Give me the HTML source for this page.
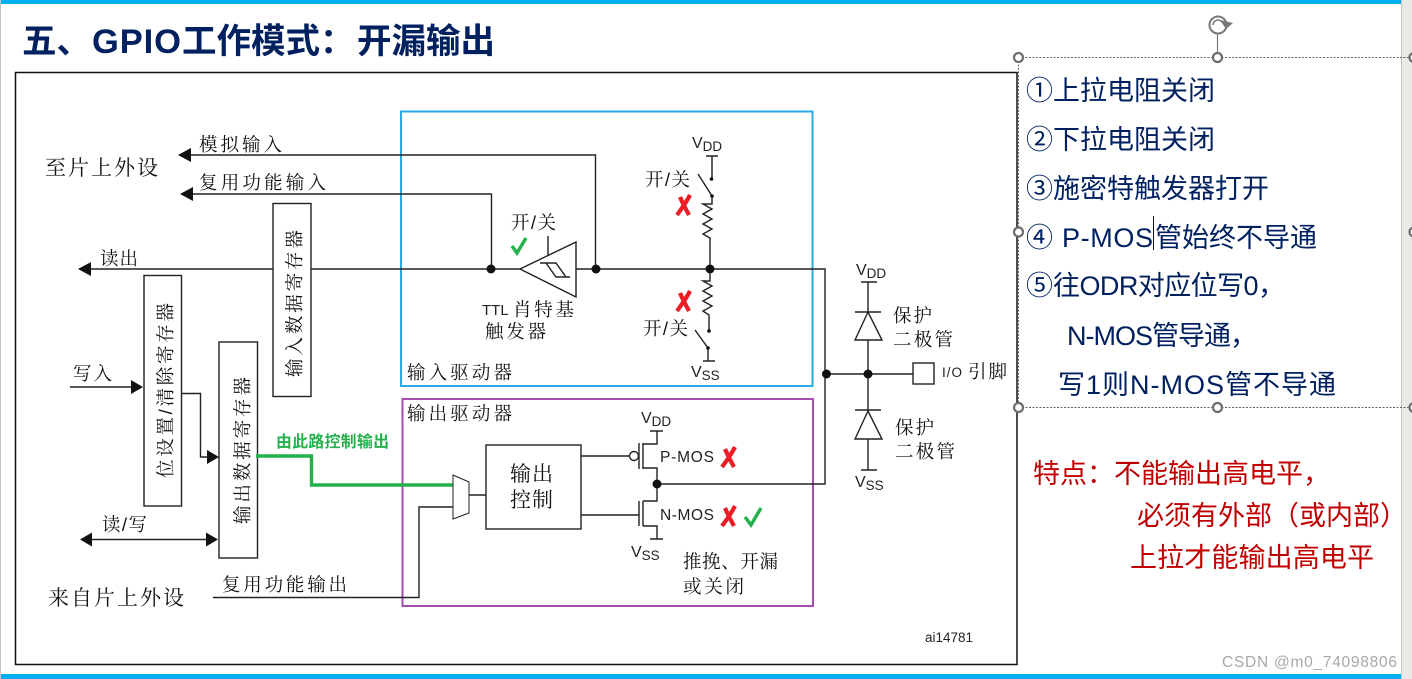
<!DOCTYPE html>
<html lang="zh-CN">
<head>
<meta charset="utf-8">
<title>GPIO 开漏输出</title>
<style>
html,body{margin:0;padding:0;background:#fff;width:1412px;height:679px;overflow:hidden}
svg{display:block}
text{font-family:"Liberation Sans","Noto Serif CJK SC",serif;fill:#111}
.l{font-size:18.5px}
.b{font-size:21px}
.s{font-family:"Liberation Sans",sans-serif;fill:#222}
.n{font-family:"Liberation Sans","Noto Sans CJK SC",sans-serif;font-size:27px;fill:#002060}
.r{font-family:"Liberation Sans","Noto Sans CJK SC",sans-serif;font-size:27px;fill:#c00000}
.w{fill:none;stroke:#222;stroke-width:1.4}
.h{fill:#fff;stroke:#6e6e6e;stroke-width:2.2}
.x{fill:none;stroke:#ee1c25;stroke-width:4.2}
.c{fill:none;stroke:#22b14c;stroke-width:3.4}
</style>
</head>
<body>
<svg width="1412" height="679" viewBox="0 0 1412 679" xmlns="http://www.w3.org/2000/svg">
<rect x="0" y="0" width="1412" height="679" fill="#fff"/>
<rect x="0" y="0" width="1" height="679" fill="#c4c4c4"/>
<rect x="1401" y="0" width="11" height="679" fill="#ebe9e6"/>
<rect x="1401" y="0" width="1" height="679" fill="#c4c4c4"/>
<rect x="1" y="0" width="1400" height="4" fill="#00b0f0"/>
<rect x="1" y="674" width="1400" height="5" fill="#00b0f0"/>

<text x="22" y="53" font-size="34.5" font-weight="700" style="font-family:'Liberation Sans','Noto Sans CJK SC',sans-serif;fill:#002060">五、<tspan x="92" textLength="89">GPIO</tspan><tspan x="182">工作模式：</tspan><tspan x="357">开漏输出</tspan></text>

<rect x="15.5" y="72.5" width="1001.5" height="592" fill="none" stroke="#111" stroke-width="1.5"/>
<rect x="401" y="111.5" width="411.5" height="274.5" fill="none" stroke="#29a9e8" stroke-width="2"/>
<rect x="402.5" y="399" width="410.5" height="207" fill="none" stroke="#a64db0" stroke-width="2"/>

<!-- wires left/top -->
<path class="w" d="M190 155H595.5V269"/>
<path d="M178 155l13-7v14z" fill="#111"/>
<path class="w" d="M192 194H491.5V269"/>
<path d="M180 194l13-7v14z" fill="#111"/>
<path class="w" d="M90 269H273M311 269H520"/>
<path d="M78 269l13-7v14z" fill="#111"/>
<path class="w" d="M576 269H825V484H657"/>

<!-- registers -->
<rect class="w" x="273" y="203.5" width="38" height="193"/>
<rect class="w" x="144" y="275.5" width="37.5" height="230.5"/>
<rect class="w" x="219" y="342" width="38.5" height="216"/>
<text class="l" transform="translate(301,377) rotate(-90)" textLength="147">输入数据寄存器</text>
<text class="l" transform="translate(172,478) rotate(-90)" textLength="175">位设置/清除寄存器</text>
<text class="l" transform="translate(249,524) rotate(-90)" textLength="147">输出数据寄存器</text>

<path class="w" d="M70 387H132"/>
<path d="M143 387l-12-7v14z" fill="#111"/>
<path class="w" d="M181 393.5H200.5V457H208"/>
<path d="M219 457l-12-7v14z" fill="#111"/>
<path class="w" d="M90 539.5H208"/>
<path d="M80 539.5l12-7v14z" fill="#111"/>
<path d="M218 539.5l-12-7v14z" fill="#111"/>
<path class="w" d="M213 597.5H419V507H453"/>
<path class="c" d="M256 456H311.5V485H453"/>

<!-- left labels -->
<text class="b" x="45" y="175" textLength="113">至片上外设</text>
<text class="l" x="199" y="151" textLength="83">模拟输入</text>
<text class="l" x="199" y="189" textLength="127">复用功能输入</text>
<text class="l" x="100" y="265" textLength="38">读出</text>
<text class="l" x="73" y="380" textLength="39">写入</text>
<text class="l" x="102" y="531" textLength="45">读/写</text>
<text class="b" x="48" y="605" textLength="136">来自片上外设</text>
<text class="l" x="222" y="591" textLength="125">复用功能输出</text>
<text x="276" y="447" font-size="15.8" font-weight="700" textLength="113" style="font-family:'Liberation Sans','Noto Sans CJK SC',sans-serif;fill:#22b14c">由此路控制输出</text>

<!-- Schmitt trigger -->
<path class="w" d="M520 269L576 242V297Z" fill="#fff"/>
<path class="w" d="M548 236V256M540 263H556L566 277H570M546 263L556 277H570"/>
<text class="l" x="511" y="229" textLength="45">开/关</text>
<path class="c" d="M512 246L517 253L526 238" stroke-width="3.8"/>
<text x="482" y="315" font-size="15" class="s">TTL</text>
<text class="l" x="513" y="316" textLength="61">肖特基</text>
<text class="l" x="485" y="338" textLength="61">触发器</text>
<text class="l" x="407" y="379" textLength="105">输入驱动器</text>
<text class="l" x="407" y="420" textLength="105">输出驱动器</text>

<!-- pull-up -->
<text class="s" x="692" y="148" font-size="16">V<tspan font-size="13.5" dy="3">DD</tspan></text>
<path class="w" d="M706 156H718M712 156V179M698 174L712 196V204H703L712 209L703 214L712 219L703 224L712 229L703 234L710 238V269"/>
<circle cx="711.5" cy="179" r="1.8" fill="#111"/><circle cx="712" cy="196" r="1.8" fill="#111"/>
<text class="l" x="645" y="186" textLength="45">开/关</text>
<path class="x" d="M690 195C686 203 682 208 677 215M680 197C683 204 685 208 689 215"/>
<!-- pull-down -->
<path class="w" d="M710 269V281H703L712 286L703 291L712 296L703 301L712 306L703 311L709 315V331M695 330L708 348V361M703 361H715"/>
<circle cx="709" cy="331" r="1.8" fill="#111"/><circle cx="708" cy="348" r="1.8" fill="#111"/>
<text class="l" x="643" y="335" textLength="45">开/关</text>
<path class="x" d="M690 291C686 299 682 304 677 311M680 293C683 300 685 304 689 311"/>
<text class="s" x="691" y="377" font-size="16">V<tspan font-size="13.5" dy="3">SS</tspan></text>

<!-- mux and output control -->
<path d="M453 475L469 482V513L453 519Z" fill="#fff" stroke="#222" stroke-width="1"/>
<path class="w" d="M469 495H486"/>
<rect class="w" x="486" y="445" width="95" height="84"/>
<text class="b" x="510" y="481" textLength="43">输出</text>
<text class="b" x="510" y="507" textLength="43">控制</text>

<!-- MOS -->
<path class="w" d="M581 456H629.5M639 443V469M643 443V469M643 444H657V431M650 431H663M643 468H657V501H643M639 501V526M643 501V526M643 526H657V539M650 539H663M581 515H639"/>
<circle class="w" cx="634" cy="456" r="4.5" fill="#fff"/>
<text class="s" x="641" y="423" font-size="16">V<tspan font-size="13.5" dy="3">DD</tspan></text>
<text class="s" x="631" y="557" font-size="16">V<tspan font-size="13.5" dy="3">SS</tspan></text>
<text class="s" x="660" y="462" font-size="15.5" textLength="54">P-MOS</text>
<text class="s" x="660" y="520" font-size="15.5" textLength="54">N-MOS</text>
<path class="x" d="M735 447C731 455 727 460 722 467M725 449C728 456 730 460 734 467"/>
<path class="x" d="M735 506C731 514 727 519 722 526M725 508C728 515 730 519 734 526"/>
<path class="c" d="M745 517L751 525L761 508" stroke-width="3.8"/>
<text class="l" x="683" y="568" textLength="95">推挽、开漏</text>
<text class="l" x="683" y="593" textLength="61">或关闭</text>

<!-- protection diodes and pin -->
<text class="s" x="856" y="275" font-size="16">V<tspan font-size="13.5" dy="3">DD</tspan></text>
<path class="w" d="M861 282H877M868 282V312M855 312H881M868 312L855 340H882Z M868 340V374"/>
<path class="w" d="M825 374H913M868 374V411M855 410H881M868 411L855 439H882Z M868 439V470M861 470H877"/>
<rect class="w" x="913" y="363" width="21" height="21" fill="#fff"/>
<text class="s" x="942" y="377" font-size="13.5" textLength="20">I/O</text>
<text class="l" x="968" y="378" textLength="39">引脚</text>
<text class="s" x="855" y="487" font-size="16">V<tspan font-size="13.5" dy="3">SS</tspan></text>
<text class="l" x="893" y="322" textLength="39">保护</text>
<text class="l" x="893" y="346" textLength="60">二极管</text>
<text class="l" x="895" y="434" textLength="39">保护</text>
<text class="l" x="895" y="458" textLength="60">二极管</text>

<!-- junction dots -->
<g fill="#111">
<circle cx="491" cy="269" r="4.5"/><circle cx="596" cy="269" r="4.5"/><circle cx="710" cy="269" r="4.5"/>
<circle cx="826.5" cy="374" r="4.5"/><circle cx="868" cy="374" r="4.5"/><circle cx="657" cy="484" r="4.5"/>
</g>
<text class="s" x="925" y="642" font-size="13.5">ai14781</text>

<!-- selection frame -->
<path d="M1018.5 57.5H1412M1018.5 57.5V407M1018.5 407.5H1412" fill="none" stroke="#666" stroke-width="1" stroke-dasharray="2 1.5"/>
<path d="M1217.5 34V53" stroke="#777" stroke-width="1.2"/>
<circle cx="1218" cy="25" r="8.5" fill="none" stroke="#777" stroke-width="2"/>
<path d="M1213 25a5 5 0 0 1 9-3" fill="none" stroke="#777" stroke-width="1.6"/>
<path d="M1220 20l13 3-7 6z" fill="#777"/>
<circle class="h" cx="1018.5" cy="57.5" r="4.5"/><circle class="h" cx="1217.5" cy="57.5" r="4.5"/><circle class="h" cx="1018.5" cy="232" r="4.5"/>
<circle class="h" cx="1018.5" cy="407.5" r="4.5"/><circle class="h" cx="1217.5" cy="407.5" r="4.5"/>
<circle class="h" cx="1414" cy="57.5" r="4.5"/><circle class="h" cx="1414" cy="232" r="4.5"/><circle class="h" cx="1414" cy="407.5" r="4.5"/>

<!-- notes -->
<text class="n" x="1026" y="100">①<tspan x="1053">上拉电阻关闭</tspan></text>
<text class="n" x="1026" y="149">②<tspan x="1053">下拉电阻关闭</tspan></text>
<text class="n" x="1026" y="198">③<tspan x="1053">施密特触发器打开</tspan></text>
<text class="n" x="1026" y="247">④<tspan x="1062" textLength="91">P-MOS</tspan><tspan x="1155">管始终不导通</tspan></text>
<path d="M1153.5 216V250" stroke="#111" stroke-width="1"/>
<text class="n" x="1026" y="295">⑤<tspan x="1053" textLength="232">往ODR对应位写0，</tspan></text>
<text class="n" x="1067" y="345" textLength="190">N-MOS管导通，</text>
<text class="n" x="1058" y="394" textLength="278">写1则N-MOS管不导通</text>

<text class="r" x="1033" y="483">特点：不能输出高电平，</text>
<text class="r" x="1137" y="525">必须有外部（或内部）</text>
<text class="r" x="1130" y="567" textLength="244">上拉才能输出高电平</text>

<text x="1222" y="667" font-size="15.5" textLength="175" style="font-family:'Liberation Sans',sans-serif;fill:#a8a8a8">CSDN @m0_74098806</text>
</svg>
</body>
</html>
